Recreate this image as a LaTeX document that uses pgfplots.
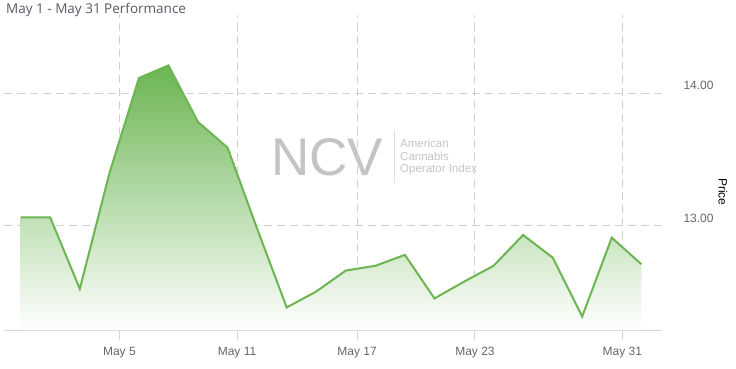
\documentclass[border=0pt]{standalone}
\usepackage{fontspec}
\setmainfont{Liberation Sans}
\newfontfamily\titlefont{Open Sans}
\usepackage{pgfplots}
\pgfplotsset{compat=1.18}
\definecolor{lineg}{HTML}{6BB552}
\definecolor{gridc}{HTML}{D0D0D0}
\definecolor{axc}{HTML}{CCD6EB}
\definecolor{labc}{HTML}{666666}
\definecolor{titc}{HTML}{555B66}
\definecolor{wmc}{HTML}{C4C4C4}
\begin{document}
\begin{tikzpicture}[x=1bp,y=1bp]
\useasboundingbox (0,0) rectangle (736,368);
% title
\node[anchor=base west, inner sep=0, text=titc, font=\titlefont\fontsize{13.5bp}{15bp}\selectfont] at (6,355) {May 1 - May 31 Performance};
% watermark
\node[anchor=base west, inner sep=0, text=wmc, font=\fontsize{53bp}{60bp}\selectfont] at (271,193) {NCV};
\draw[color=black!13, line width=0.8bp] (394,238) -- (394,185);
\node[anchor=base west, inner sep=0, text=wmc, font=\fontsize{11.5bp}{13bp}\selectfont] at (400,221) {American};
\node[anchor=base west, inner sep=0, text=wmc, font=\fontsize{11.5bp}{13bp}\selectfont] at (400,208) {Cannabis};
\node[anchor=base west, inner sep=0, text=wmc, font=\fontsize{11.5bp}{13bp}\selectfont] at (400,195.5) {Operator Index};
% price label
\node[rotate=-90, inner sep=0, font=\fontsize{12bp}{14bp}\selectfont] at (723,176) {Price};
\begin{axis}[
  at={(4bp,38bp)}, anchor=south west,
  scale only axis, width=658bp, height=315bp,
  xmin=-0.565, xmax=21.70,
  ymin=12.216, ymax=14.59,
  axis x line*=bottom, axis y line*=right,
  x axis line style={-, draw=axc, line width=1bp},
  y axis line style={draw=none},
  xtick={3.34,7.32,11.38,15.37,20.36},
  xticklabels={May 5,May 11,May 17,May 23,May 31},
  ytick={13,14}, yticklabels={13.00,14.00},
  xtick style={draw=axc, line width=1bp},
  ytick style={draw=none},
  major tick length=10bp, tick align=outside,
  xticklabel style={text=labc, font=\fontsize{12bp}{14bp}\selectfont, anchor=center, yshift=-13bp},
  yticklabel style={text=labc, font=\fontsize{12bp}{14bp}\selectfont, anchor=west, xshift=8bp, yshift=7.5bp},
  grid=major,
  major grid style={dash pattern=on 8bp off 5bp, color=gridc, line width=1bp},
  clip=false,
]
\addplot[draw=none, top color=lineg, bottom color=white] coordinates {
(0,12.216) (0,13.064) (1,13.064) (2,12.526) (3,13.396) (4,14.115) (5,14.21)
(6,13.784) (7,13.59) (8,12.98) (9,12.386) (10,12.506) (11,12.664) (12,12.70)
(13,12.782) (14,12.454) (15,12.58) (16,12.70) (17,12.932) (18,12.762)
(19,12.318) (20,12.912) (21,12.712) (21,12.216)} -- cycle;
\addplot[color=lineg, line width=2bp, mark=none] coordinates {
(0,13.064) (1,13.064) (2,12.526) (3,13.396) (4,14.115) (5,14.21)
(6,13.784) (7,13.59) (8,12.98) (9,12.386) (10,12.506) (11,12.664) (12,12.70)
(13,12.782) (14,12.454) (15,12.58) (16,12.70) (17,12.932) (18,12.762)
(19,12.318) (20,12.912) (21,12.712)};
\end{axis}
\end{tikzpicture}
\end{document}
